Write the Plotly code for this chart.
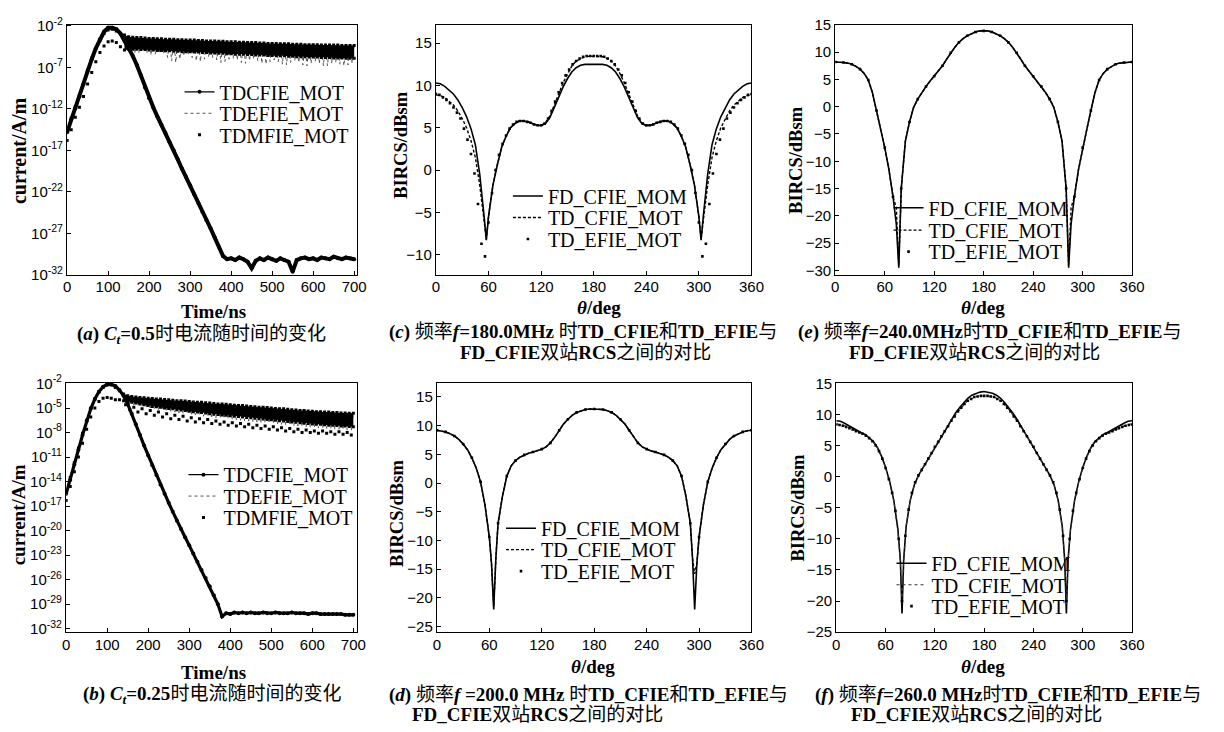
import plotly.graph_objects as go

W, H = 1224, 732

# ------------------------------------------------------------------
# Time-domain surface current, values are log10(|J| / (A/m))
# ------------------------------------------------------------------
t_ns = list(range(0, 701, 10))          # 71 samples
t_mid = list(range(145, 696, 10))       # 56 samples between them

cfie_a = [-14.8, -13.3, -11.9, -10.5, -9.0, -7.4, -6.0, -4.7, -3.6, -2.7,
          -2.2, -2.2, -2.4, -2.9, -3.8, -4.6, -5.6, -6.7, -8.0, -9.4,
          -10.7, -11.8, -12.9, -13.9, -14.9, -16.0, -17.0, -18.1, -19.2, -20.2,
          -21.2, -22.3, -23.3, -24.4, -25.4, -26.4, -27.5, -28.6, -29.7, -30.1,
          -30.0, -30.2, -29.9, -30.1, -30.4, -31.2, -30.3, -30.0, -30.2, -29.9,
          -30.1, -30.3, -30.0, -30.2, -30.4, -31.6, -30.2, -30.0, -29.9, -30.1,
          -30.0, -30.2, -29.9, -30.0, -30.1, -29.8, -30.0, -30.1, -29.9, -30.0,
          -30.1]
mfie_a_hi = [-14.6, -13.1, -11.7, -10.3, -8.8, -7.3, -5.9, -4.7, -3.7, -2.9,
             -2.5, -2.4, -2.6, -2.9, -3.1, -3.3, -3.35, -3.4, -3.4, -3.45,
             -3.5, -3.5, -3.55, -3.55, -3.6, -3.6, -3.6, -3.65, -3.65, -3.7,
             -3.7, -3.7, -3.75, -3.75, -3.8, -3.8, -3.8, -3.85, -3.85, -3.9,
             -3.9, -3.9, -3.95, -3.95, -4.0, -4.0, -4.0, -4.05, -4.05, -4.1,
             -4.1, -4.1, -4.15, -4.15, -4.15, -4.2, -4.2, -4.2, -4.25, -4.25,
             -4.25, -4.25, -4.3, -4.3, -4.3, -4.3, -4.3, -4.35, -4.35, -4.35,
             -4.35]
mfie_a_lo = [-15.8, -14.5, -13.0, -11.8, -10.5, -9.0, -7.6, -6.3, -5.2, -4.4,
             -3.9, -3.8, -4.0, -4.5, -4.9, -4.8, -4.8, -4.8, -4.85, -4.85,
             -4.9, -4.9, -4.95, -4.95, -5.0, -5.0, -5.05, -5.05, -5.1, -5.1,
             -5.1, -5.15, -5.15, -5.2, -5.2, -5.25, -5.25, -5.3, -5.3, -5.35,
             -5.35, -5.4, -5.4, -5.4, -5.45, -5.45, -5.5, -5.5, -5.5, -5.55,
             -5.55, -5.6, -5.6, -5.6, -5.65, -5.65, -5.7, -5.7, -5.7, -5.75,
             -5.75, -5.75, -5.8, -5.8, -5.8, -5.85, -5.85, -5.85, -5.9, -5.9,
             -5.9]
efie_a_lo = [-5.0, -5.1, -5.3, -5.2, -5.0, -5.2, -5.5, -5.4, -5.2, -5.4,
             -5.8, -6.2, -6.4, -6.0, -5.6, -5.5, -5.8, -6.2, -6.3, -6.0,
             -5.7, -5.8, -6.1, -6.4, -6.3, -6.0, -5.9, -6.1, -6.4, -6.5,
             -6.2, -6.0, -6.2, -6.5, -6.6, -6.3, -6.1, -6.3, -6.6, -6.7,
             -6.4, -6.2, -6.4, -6.7, -6.8, -6.5, -6.3, -6.5, -6.8, -6.8,
             -6.5, -6.4, -6.6, -6.8, -6.7, -6.5]

cfie_b = [-15.5, -13.8, -11.9, -10.1, -8.3, -6.6, -5.1, -3.9, -3.0, -2.4,
          -2.1, -2.1, -2.3, -2.8, -3.5, -4.5, -5.7, -7.0, -8.3, -9.6,
          -10.8, -12.0, -13.2, -14.4, -15.5, -16.6, -17.7, -18.8, -19.8, -20.8,
          -21.8, -22.8, -23.8, -24.8, -25.8, -26.8, -27.9, -29.0, -30.5, -30.1,
          -30.2, -30.0, -30.1, -30.0, -30.1, -30.0, -30.1, -30.1, -30.0, -30.1,
          -30.1, -30.0, -30.1, -30.1, -30.1, -30.0, -30.1, -30.1, -30.1, -30.2,
          -30.1, -30.1, -30.2, -30.2, -30.2, -30.2, -30.2, -30.2, -30.3, -30.3,
          -30.3]
mfie_b_hi = [-15.2, -13.5, -11.7, -9.9, -8.1, -6.5, -5.0, -3.9, -3.0, -2.5,
             -2.2, -2.2, -2.5, -2.9, -3.3, -3.5, -3.6, -3.65, -3.7, -3.75,
             -3.8, -3.85, -3.9, -3.9, -3.95, -4.0, -4.05, -4.1, -4.1, -4.15,
             -4.2, -4.25, -4.3, -4.3, -4.35, -4.4, -4.45, -4.5, -4.5, -4.55,
             -4.6, -4.65, -4.7, -4.7, -4.75, -4.8, -4.85, -4.9, -4.9, -4.95,
             -5.0, -5.05, -5.1, -5.1, -5.15, -5.2, -5.25, -5.3, -5.3, -5.35,
             -5.4, -5.45, -5.45, -5.5, -5.5, -5.55, -5.55, -5.6, -5.6, -5.65,
             -5.65]
mfie_b_lo = [-16.3, -14.6, -12.8, -11.0, -9.3, -7.6, -6.1, -5.0, -4.2, -3.8,
             -3.7, -3.8, -4.0, -4.0, -4.1, -4.2, -4.3, -4.4, -4.5, -4.6,
             -4.7, -4.8, -4.85, -4.9, -5.0, -5.05, -5.1, -5.2, -5.25, -5.3,
             -5.4, -5.45, -5.5, -5.55, -5.6, -5.7, -5.75, -5.8, -5.85, -5.9,
             -5.95, -6.0, -6.05, -6.1, -6.15, -6.2, -6.25, -6.3, -6.35, -6.4,
             -6.45, -6.5, -6.55, -6.6, -6.65, -6.7, -6.75, -6.8, -6.85, -6.9,
             -6.95, -7.0, -7.0, -7.05, -7.1, -7.1, -7.15, -7.2, -7.2, -7.25,
             -7.3]
mfie_b_dip = [-4.6, -5.2, -4.9, -5.5, -5.1, -5.7, -5.3, -5.9, -5.5, -6.1,
              -5.7, -6.3, -5.9, -6.4, -6.0, -6.6, -6.2, -6.7, -6.3, -6.8,
              -6.4, -6.9, -6.6, -7.0, -6.7, -7.1, -6.8, -7.2, -6.9, -7.3,
              -7.0, -7.4, -7.1, -7.5, -7.2, -7.6, -7.3, -7.7, -7.4, -7.8,
              -7.5, -7.9, -7.6, -8.0, -7.7, -8.0, -7.8, -8.1, -7.8, -8.1,
              -7.9, -8.2, -7.9, -8.2, -8.0, -8.3]
efie_b_lo = [-4.3, -4.5, -4.6, -4.7, -4.8, -4.9, -5.0, -5.1, -5.2, -5.3,
             -5.35, -5.4, -5.5, -5.6, -5.65, -5.7, -5.8, -5.85, -5.9, -6.0,
             -6.05, -6.1, -6.2, -6.25, -6.3, -6.35, -6.4, -6.45, -6.5, -6.55,
             -6.6, -6.65, -6.7, -6.75, -6.8, -6.85, -6.9, -6.95, -7.0, -7.05,
             -7.1, -7.15, -7.2, -7.25, -7.3, -7.35, -7.4, -7.45, -7.5, -7.5,
             -7.55, -7.6, -7.6, -7.65, -7.7, -7.7]

log_ticks_a = [-32, -27, -22, -17, -12, -7, -2]
log_ticks_b = [-32, -29, -26, -23, -20, -17, -14, -11, -8, -5, -2]
time_ticks = [0, 100, 200, 300, 400, 500, 600, 700]
angle_ticks = [0, 60, 120, 180, 240, 300, 360]

# ------------------------------------------------------------------
# Bistatic RCS (dBsm) versus theta (deg)
# ------------------------------------------------------------------
ang4 = list(range(0, 361, 4))
ang10 = list(range(0, 361, 10))

# (c) f = 180 MHz
ang_c = list(range(0, 56, 5)) + [57.5] + list(range(60, 301, 5)) + [302.5] + list(range(305, 361, 5))
fd_c = [10.3, 10.2, 9.9, 9.5, 9.0, 8.3, 7.4, 6.3, 4.9, 3.0, -0.5, -5.5, -8.3, -5.5,
        -1.8, 0.6, 2.7, 4.0, 5.0, 5.5, 5.8, 5.8, 5.7, 5.5, 5.3, 5.25, 5.5, 6.2, 7.3,
        8.6, 9.8, 10.8, 11.6, 12.1, 12.4, 12.5, 12.5, 12.5,
        12.5, 12.5, 12.4, 12.1, 11.6, 10.8, 9.8, 8.6, 7.3, 6.2, 5.5, 5.25, 5.3, 5.5,
        5.7, 5.8, 5.8, 5.5, 5.0, 4.0, 2.7, 0.6, -1.8, -5.5, -8.3, -5.5, -0.5, 3.0,
        4.9, 6.3, 7.4, 8.3, 9.0, 9.5, 9.9, 10.2, 10.3]
td_c = [8.9, 8.8, 8.6, 8.2, 7.7, 7.0, 6.1, 5.0, 3.5, 1.5, -1.8, -6.0, -8.2, -5.5,
        -1.8, 0.6, 2.7, 4.0, 5.0, 5.5, 5.8, 5.8, 5.7, 5.5, 5.3, 5.3, 5.6, 6.4, 7.6,
        9.0, 10.3, 11.4, 12.3, 12.9, 13.2, 13.4, 13.45, 13.45,
        13.45, 13.4, 13.2, 12.9, 12.3, 11.4, 10.3, 9.0, 7.6, 6.4, 5.6, 5.3, 5.3, 5.5,
        5.7, 5.8, 5.8, 5.5, 5.0, 4.0, 2.7, 0.6, -1.8, -5.5, -8.2, -6.0, -1.8, 1.5,
        3.5, 5.0, 6.1, 7.0, 7.7, 8.2, 8.6, 8.8, 8.9]
efie_c = [9.0, 8.9, 8.6, 8.3, 7.9, 7.4, 6.8, 6.1, 4.9, 3.6, 1.9, -0.4, -4.0, -8.7,
          -10.2, -6.2, -2.7, 0.0, 1.8, 3.1, 4.1, 4.9, 5.4, 5.7, 5.8, 5.8, 5.7, 5.6,
          5.4, 5.3, 5.3, 5.5, 6.1, 7.0, 8.1, 9.2, 10.3, 11.2, 11.9, 12.5, 12.9, 13.2,
          13.4, 13.5, 13.5, 13.5,
          13.5, 13.5, 13.4, 13.2, 12.9, 12.5, 11.9, 11.2, 10.3, 9.2, 8.1, 7.0, 6.1,
          5.5, 5.3, 5.3, 5.4, 5.6, 5.7, 5.8, 5.8, 5.7, 5.4, 4.9, 4.1, 3.1, 1.8, 0.0,
          -2.7, -6.2, -10.2, -8.7, -4.0, -0.4, 1.9, 3.6, 4.9, 6.1, 6.8, 7.4, 7.9,
          8.3, 8.6, 8.9, 9.0]

# (d) f = 200 MHz
ang_d = list(range(0, 61, 5)) + [62.5, 65, 67.5] + list(range(70, 291, 5)) + [292.5, 295, 297.5] + list(range(300, 361, 5))
fd_d = [9.2, 9.1, 8.9, 8.6, 8.2, 7.6, 6.8, 5.8, 4.4, 2.6, 0.2, -3.8, -9.4, -14.0,
        -22.0, -13.0, -7.0, -2.3, 1.2, 3.0, 3.9, 4.5, 4.9, 5.2, 5.4, 5.6, 5.9, 6.3,
        7.0, 8.0, 9.2, 10.3, 11.1, 11.8, 12.3, 12.6, 12.8, 12.9, 12.9,
        12.9, 12.8, 12.6, 12.3, 11.8, 11.1, 10.3, 9.2, 8.0, 7.0, 6.3, 5.9, 5.6, 5.4,
        5.2, 4.9, 4.5, 3.9, 3.0, 1.2, -2.3, -7.0, -13.0, -22.0, -14.0, -9.4, -3.8,
        0.2, 2.6, 4.4, 5.8, 6.8, 7.6, 8.2, 8.6, 8.9, 9.1, 9.2]
td_d = [9.2, 9.1, 8.9, 8.6, 8.2, 7.6, 6.8, 5.8, 4.4, 2.6, 0.2, -3.8, -9.4, -14.0,
        -21.5, -13.0, -7.0, -2.3, 1.2, 3.0, 3.9, 4.5, 4.9, 5.2, 5.4, 5.6, 5.9, 6.3,
        7.0, 8.0, 9.2, 10.3, 11.1, 11.8, 12.3, 12.6, 12.8, 12.9, 12.9,
        12.9, 12.8, 12.6, 12.3, 11.8, 11.1, 10.3, 9.2, 8.0, 7.0, 6.3, 5.9, 5.6, 5.4,
        5.2, 4.9, 4.5, 3.9, 3.0, 1.2, -2.3, -7.0, -13.0, -15.8, -14.0, -9.4, -3.8,
        0.2, 2.6, 4.4, 5.8, 6.8, 7.6, 8.2, 8.6, 8.9, 9.1, 9.2]
efie_d = [9.2, 8.9, 8.2, 6.8, 4.4, 0.2, -9.4, -7.0, 1.2, 3.9, 4.9, 5.4, 5.9, 7.0,
          9.2, 11.1, 12.3, 12.8, 12.9, 12.8, 12.3, 11.1, 9.2, 7.0, 5.9, 5.4, 4.9,
          3.9, 1.2, -7.0, -9.4, 0.2, 4.4, 6.8, 8.2, 8.9, 9.2]

# (e) f = 240 MHz
ang_e = list(range(0, 71, 5)) + [74, 77, 80] + list(range(85, 276, 5)) + [280, 283, 286] + list(range(290, 361, 5))
fd_e = [8.2, 8.2, 8.1, 8.0, 7.8, 7.4, 6.9, 6.1, 4.9, 2.6, -0.7, -4.2, -7.5, -11.5,
        -16.5, -21.5, -29.5, -15.0, -6.3, -2.8, -0.1, 1.4, 2.6, 3.7, 4.7, 5.6, 6.5,
        7.5, 8.7, 9.9, 10.9, 11.8, 12.5, 13.0, 13.4, 13.7, 13.9, 13.9,
        13.9, 13.7, 13.4, 13.0, 12.5, 11.8, 10.9, 9.9, 8.7, 7.5, 6.5, 5.6, 4.7, 3.7,
        2.6, 1.4, -0.1, -2.8, -6.3, -15.0, -29.5, -21.5, -16.5, -11.5, -7.5, -4.2,
        -0.7, 2.6, 4.9, 6.1, 6.9, 7.4, 7.8, 8.0, 8.1, 8.2, 8.2]
td_e = [8.2, 8.2, 8.1, 8.0, 7.8, 7.4, 6.9, 6.1, 4.9, 2.6, -0.7, -4.2, -7.5, -11.5,
        -16.5, -18.5, -29.0, -15.0, -6.3, -2.8, -0.1, 1.4, 2.6, 3.7, 4.7, 5.6, 6.5,
        7.5, 8.7, 9.9, 10.9, 11.8, 12.5, 13.0, 13.4, 13.7, 13.9, 13.9,
        13.9, 13.7, 13.4, 13.0, 12.5, 11.8, 10.9, 9.9, 8.7, 7.5, 6.5, 5.6, 4.7, 3.7,
        2.6, 1.4, -0.1, -2.8, -6.3, -15.0, -29.0, -18.5, -16.5, -11.5, -7.5, -4.2,
        -0.7, 2.6, 4.9, 6.1, 6.9, 7.4, 7.8, 8.0, 8.1, 8.2, 8.2]
efie_e = [8.2, 8.1, 7.8, 6.9, 4.9, -0.7, -7.5, -16.5, -15.0, -2.8, 1.4, 3.7, 5.6,
          7.5, 9.9, 11.8, 13.0, 13.7, 13.9, 13.7, 13.0, 11.8, 9.9, 7.5, 5.6, 3.7,
          1.4, -2.8, -15.0, -16.5, -7.5, -0.7, 4.9, 6.9, 7.8, 8.1, 8.2]

# (f) f = 260 MHz
ang_f = list(range(0, 76, 5)) + [78, 80, 82] + list(range(85, 276, 5)) + [278, 280, 282] + list(range(285, 361, 5))
fd_f = [9.0, 8.9, 8.6, 8.2, 7.8, 7.5, 7.1, 6.8, 6.3, 5.7, 4.7, 3.3, 1.5, -0.8, -3.8,
        -8.5, -13.5, -22.0, -13.5, -8.0, -3.8, -1.3, 0.2, 1.3, 2.4, 3.6, 4.8, 5.9,
        7.0, 8.1, 9.2, 10.2, 11.1, 11.9, 12.6, 13.1, 13.4, 13.6, 13.7,
        13.6, 13.4, 13.1, 12.6, 11.9, 11.1, 10.2, 9.2, 8.1, 7.0, 5.9, 4.8, 3.6, 2.4,
        1.3, 0.2, -1.3, -3.8, -8.0, -13.5, -22.0, -13.5, -8.5, -3.8, -0.8, 1.5, 3.3,
        4.7, 5.7, 6.3, 6.8, 7.1, 7.5, 7.8, 8.2, 8.6, 8.9, 9.0]
td_f = [8.5, 8.4, 8.2, 7.9, 7.6, 7.3, 7.0, 6.7, 6.2, 5.6, 4.6, 3.2, 1.4, -0.9, -3.9,
        -8.6, -13.5, -20.5, -13.5, -8.0, -3.8, -1.3, 0.2, 1.3, 2.4, 3.6, 4.8, 5.8,
        6.9, 7.9, 9.0, 9.9, 10.8, 11.5, 12.2, 12.6, 12.9, 13.0, 13.0,
        13.0, 12.9, 12.6, 12.2, 11.5, 10.8, 9.9, 9.0, 7.9, 6.9, 5.8, 4.8, 3.6, 2.4,
        1.3, 0.2, -1.3, -3.8, -8.0, -13.5, -20.5, -13.5, -8.6, -3.9, -0.9, 1.4, 3.2,
        4.6, 5.6, 6.2, 6.7, 7.0, 7.3, 7.6, 7.9, 8.2, 8.4, 8.5]
efie_f = [8.4, 8.3, 8.2, 8.0, 7.8, 7.6, 7.3, 7.1, 6.9, 6.6, 6.2, 5.7, 5.0, 4.1, 2.9,
          1.4, -0.4, -2.6, -5.5, -10.0, -20.0, -9.5, -5.3, -2.6, -0.9, 0.2, 1.1, 2.0,
          2.9, 3.8, 4.8, 5.6, 6.5, 7.3, 8.1, 9.0, 9.7, 10.5, 11.1, 11.7, 12.2, 12.5,
          12.8, 12.9, 13.0, 13.0,
          13.0, 12.9, 12.8, 12.5, 12.2, 11.7, 11.1, 10.5, 9.7, 9.0, 8.1, 7.3, 6.5,
          5.6, 4.8, 3.8, 2.9, 2.0, 1.1, 0.2, -0.9, -2.6, -5.3, -9.5, -20.0, -10.0,
          -5.5, -2.6, -0.4, 1.4, 2.9, 4.1, 5.0, 5.7, 6.2, 6.6, 6.9, 7.1, 7.3, 7.6,
          7.8, 8.0, 8.2, 8.3, 8.4]

rcs_ticks_c = [-10, -5, 0, 5, 10, 15]
rcs_ticks_d = [-25, -20, -15, -10, -5, 0, 5, 10, 15]
rcs_ticks_e = [-30, -25, -20, -15, -10, -5, 0, 5, 10, 15]
rcs_ticks_f = [-25, -20, -15, -10, -5, 0, 5, 10, 15]

for a, b in [(t_ns, cfie_a), (t_ns, mfie_a_hi), (t_ns, mfie_a_lo), (t_mid, efie_a_lo),
             (t_ns, cfie_b), (t_ns, mfie_b_hi), (t_ns, mfie_b_lo), (t_mid, mfie_b_dip),
             (t_mid, efie_b_lo), (ang_c, fd_c), (ang_c, td_c), (ang4, efie_c),
             (ang_d, fd_d), (ang_d, td_d), (ang10, efie_d), (ang_e, fd_e), (ang_e, td_e),
             (ang10, efie_e), (ang_f, fd_f), (ang_f, td_f), (ang4, efie_f)]:
    assert len(a) == len(b), (len(a), len(b))

# ------------------------------------------------------------------
SERIF = "Liberation Serif"
SANS = "Liberation Sans"
CAPFONT = "Liberation Serif, Noto Sans CJK SC"


def p10(vals):
    return [10 ** v for v in vals]


def zigzag(hi, lo_mid):
    xs, ys = [], []
    for i, t in enumerate(t_ns):
        xs.append(t)
        ys.append(hi[i])
        j = i - 14
        if 0 <= j < len(t_mid):
            xs.append(t_mid[j])
            ys.append(lo_mid[j])
    return xs, p10(ys)


fig = go.Figure()

legend_no = [0]


def next_legend():
    legend_no[0] += 1
    return "legend" if legend_no[0] == 1 else "legend%d" % legend_no[0]


def time_panel(xa, ya, cfie, hi, lo, efie_lo, dip, cfie_width):
    ex, ey = zigzag(hi, efie_lo)
    l1, l2, l3 = next_legend(), next_legend(), next_legend()
    fig.add_trace(go.Scatter(x=ex, y=ey, mode="lines", name="TDEFIE_MOT",
                             line=dict(color="#555555", width=1, dash="dot"),
                             xaxis=xa, yaxis=ya, legend=l2, hoverinfo="skip"))
    bx = t_ns[14:] + t_ns[14:][::-1]
    by = p10(hi[14:] + lo[14:][::-1])
    fig.add_trace(go.Scatter(x=bx, y=by, mode="lines", fill="toself", fillcolor="black",
                             line=dict(width=0, color="black"), showlegend=False,
                             xaxis=xa, yaxis=ya, hoverinfo="skip"))
    mx = t_ns + t_ns
    my = hi + lo
    if dip is not None:
        mx = mx + t_mid
        my = my + dip
    fig.add_trace(go.Scatter(x=mx, y=p10(my), mode="markers", name="TDMFIE_MOT",
                             marker=dict(color="black", size=3, symbol="square"),
                             xaxis=xa, yaxis=ya, legend=l3))
    fig.add_trace(go.Scatter(x=t_ns, y=p10(cfie), mode="lines+markers", name="TDCFIE_MOT",
                             line=dict(color="black", width=cfie_width),
                             marker=dict(color="black", size=4), showlegend=False,
                             xaxis=xa, yaxis=ya))
    # legend key only (thin line with a dot, as in the printed legend)
    fig.add_trace(go.Scatter(x=[None], y=[None], mode="lines+markers", name="TDCFIE_MOT",
                             line=dict(color="black", width=1.3),
                             marker=dict(color="black", size=4),
                             xaxis=xa, yaxis=ya, legend=l1))
    return [l1, l2, l3]


def rcs_panel(xa, ya, ang, fd, td, ang_e, efie, td_dash, td_width, td_color):
    l1, l2, l3 = next_legend(), next_legend(), next_legend()
    fig.add_trace(go.Scatter(x=ang, y=fd, mode="lines", name="FD_CFIE_MOM",
                             line=dict(color="black", width=1.6),
                             xaxis=xa, yaxis=ya, legend=l1))
    fig.add_trace(go.Scatter(x=ang, y=td, mode="lines", name="TD_CFIE_MOT",
                             line=dict(color=td_color, width=td_width, dash=td_dash),
                             xaxis=xa, yaxis=ya, legend=l2))
    fig.add_trace(go.Scatter(x=ang_e, y=efie, mode="markers", name="TD_EFIE_MOT",
                             marker=dict(color="black", size=2.6, symbol="square"),
                             xaxis=xa, yaxis=ya, legend=l3))
    return [l1, l2, l3]


legs = {}
legs["a"] = time_panel("x", "y", cfie_a, mfie_a_hi, mfie_a_lo, efie_a_lo, None, 4.0)
legs["b"] = time_panel("x2", "y2", cfie_b, mfie_b_hi, mfie_b_lo, efie_b_lo, mfie_b_dip, 3.2)
legs["c"] = rcs_panel("x3", "y3", ang_c, fd_c, td_c, ang4, efie_c, "3px,2px", 1.4, "black")
legs["d"] = rcs_panel("x4", "y4", ang_d, fd_d, td_d, ang10, efie_d, "3px,2px", 1.4, "black")
legs["e"] = rcs_panel("x5", "y5", ang_e, fd_e, td_e, ang10, efie_e, "3px,2px", 1.4, "black")
legs["f"] = rcs_panel("x6", "y6", ang_f, fd_f, td_f, ang4, efie_f, "dot", 1.1, "#333333")

# order of legend entries per panel: (a,b): CFIE, EFIE, MFIE ; (c-f): FD, TD_CFIE, TD_EFIE
leg_pos = {
    "a": (220, [83, 105, 127]),
    "b": (224, [476, 498, 520]),
    "c": (553, [190, 212, 234]),
    "d": (546, [531, 553, 575]),
    "e": (939, [202, 225, 247]),
    "f": (942, [567, 589, 611]),
}

layout = dict(width=W, height=H, margin=dict(l=0, r=0, t=0, b=0),
              paper_bgcolor="white", plot_bgcolor="white", showlegend=True)

for key, ids in legs.items():
    tl, rows = leg_pos[key]
    for lid, yc in zip(ids, rows):
        layout[lid] = dict(x=(tl - 42) / W, y=1 - yc / H, xanchor="left", yanchor="middle",
                           bgcolor="rgba(0,0,0,0)", borderwidth=0, itemwidth=30,
                           font=dict(family=SERIF, size=20, color="black"))

panels = [
    ("xaxis", "yaxis", "y", "x", (64, 358), (14, 271)),
    ("xaxis2", "yaxis2", "y2", "x2", (63, 358), (382, 638)),
    ("xaxis3", "yaxis3", "y3", "x3", (438, 758), (14, 271)),
    ("xaxis4", "yaxis4", "y4", "x4", (439, 758), (382, 638)),
    ("xaxis5", "yaxis5", "y5", "x5", (843, 1144), (14, 271)),
    ("xaxis6", "yaxis6", "y6", "x6", (844, 1144), (382, 638)),
]

common = dict(showline=True, linecolor="black", linewidth=1.3, mirror=True,
              ticks="inside", ticklen=4, tickwidth=1, tickcolor="black",
              showgrid=False, zeroline=False,
              tickfont=dict(family=SANS, size=15, color="black"))

x_specs = [
    dict(range=[0, 707], tickvals=time_ticks),
    dict(range=[0, 709], tickvals=time_ticks),
    dict(range=[0, 360], tickvals=angle_ticks),
    dict(range=[0, 360], tickvals=angle_ticks),
    dict(range=[0, 360], tickvals=angle_ticks),
    dict(range=[0, 360], tickvals=angle_ticks),
]
y_specs = [
    dict(type="log", range=[-32, -1.84], tickvals=p10(log_ticks_a),
         ticktext=["10<sup>%d</sup>" % k for k in log_ticks_a]),
    dict(type="log", range=[-32.45, -1.95], tickvals=p10(log_ticks_b),
         ticktext=["10<sup>%d</sup>" % k for k in log_ticks_b]),
    dict(range=[-12.4, 17.2], tickvals=rcs_ticks_c),
    dict(range=[-26, 17.4], tickvals=rcs_ticks_d),
    dict(range=[-30.85, 15.05], tickvals=rcs_ticks_e),
    dict(range=[-25.05, 15.05], tickvals=rcs_ticks_f),
]

for (xk, yk, yanchor_id, xanchor_id, xd, yd), xs, ys in zip(panels, x_specs, y_specs):
    layout[xk] = dict(common, domain=[xd[0] / W, xd[1] / W], anchor=yanchor_id,
                      ticklabelstandoff=-2, **xs)
    layout[yk] = dict(common, domain=[1 - yd[1] / H, 1 - yd[0] / H], anchor=xanchor_id, **ys)

fig.update_layout(**layout)


def note(text, x, y, size, family=SERIF, angle=0, xanchor="center"):
    fig.add_annotation(text=text, x=x / W, y=1 - y / H, xref="paper", yref="paper",
                       showarrow=False, textangle=angle, xanchor=xanchor, yanchor="middle",
                       font=dict(family=family, size=size, color="black"))


# axis titles
note("<b>Time/ns</b>", 212, 309, 19)
note("<b>Time/ns</b>", 212, 679, 19)
note("<b>current/A/m</b>", 15, 143, 20, angle=-90)
note("<b>current/A/m</b>", 15, 517, 19, angle=-90)
for xc, yc in [(403, 137), (398, 515), (803, 153), (805, 510)]:
    note("<b>BIRCS/dBsm</b>", xc, yc, 18.5, angle=-90)
for xc, yc in [(603, 304), (597, 673), (993, 304), (993, 673)]:
    note("<b><i>θ</i>/deg</b>", xc, yc, 19)

# captions
CS = 19
note("<b>(<i>a</i>) <i>C</i><sub><i>t</i></sub>=0.5</b>时电流随时间的变化", 72, 333, CS, CAPFONT, xanchor="left")
note("<b>(<i>b</i>) <i>C</i><sub><i>t</i></sub>=0.25</b>时电流随时间的变化", 78, 702, CS, CAPFONT, xanchor="left")
note("<b>(<i>c</i>)</b> 频率<b><i>f</i>=180.0MHz</b> 时<b>TD_CFIE</b>和<b>TD_EFIE</b>与", 388, 330, CS, CAPFONT, xanchor="left")
note("<b>FD_CFIE</b>双站<b>RCS</b>之间的对比", 460, 351, CS, CAPFONT, xanchor="left")
note("<b>(<i>d</i>)</b> 频率<b><i>f</i> =200.0 MHz</b> 时<b>TD_CFIE</b>和<b>TD_EFIE</b>与", 388, 702, CS, CAPFONT, xanchor="left")
note("<b>FD_CFIE</b>双站<b>RCS</b>之间的对比", 412, 722, CS, CAPFONT, xanchor="left")
note("<b>(<i>e</i>)</b> 频率<b><i>f</i>=240.0MHz</b>时<b>TD_CFIE</b>和<b>TD_EFIE</b>与", 803, 330, CS, CAPFONT, xanchor="left")
note("<b>FD_CFIE</b>双站<b>RCS</b>之间的对比", 855, 351, CS, CAPFONT, xanchor="left")
note("<b>(<i>f</i>)</b> 频率<b><i>f</i>=260.0 MHz</b>时<b>TD_CFIE</b>和<b>TD_EFIE</b>与", 820, 702, CS, CAPFONT, xanchor="left")
note("<b>FD_CFIE</b>双站<b>RCS</b>之间的对比", 857, 722, CS, CAPFONT, xanchor="left")

fig.write_html("out.html")
